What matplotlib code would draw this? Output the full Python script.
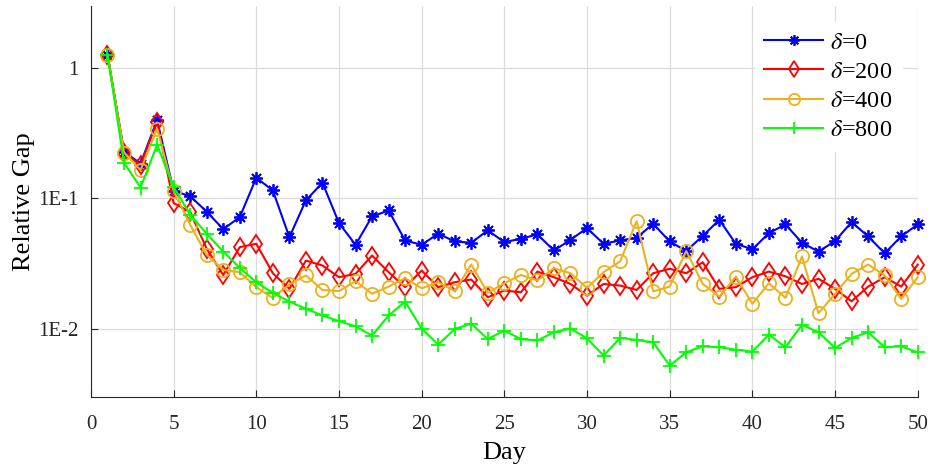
import numpy as np
import matplotlib
matplotlib.use("Agg")
import matplotlib.pyplot as plt

days = np.arange(1, 51)

gap_d0 = [1.27, 0.228, 0.185, 0.40, 0.114, 0.104, 0.079, 0.058, 0.0718, 0.144,
          0.115, 0.0503, 0.0966, 0.132, 0.0646, 0.044, 0.0726, 0.0807, 0.0475, 0.044,
          0.0535, 0.0467, 0.0456, 0.0568, 0.0461, 0.049, 0.0528, 0.0398, 0.048, 0.0591,
          0.0448, 0.0475, 0.0498, 0.0638, 0.0467, 0.0394, 0.0515, 0.0684, 0.0448, 0.0406,
          0.0541, 0.0631, 0.0456, 0.039, 0.047, 0.0658, 0.051, 0.0379, 0.051, 0.0631]
gap_d200 = [1.27, 0.225, 0.18, 0.387, 0.092, 0.0785, 0.041, 0.0258, 0.0422, 0.0448,
            0.0266, 0.0202, 0.0333, 0.0305, 0.0248, 0.0263, 0.0364, 0.0271, 0.0208, 0.0279,
            0.0208, 0.0227, 0.0238, 0.0174, 0.0196, 0.019, 0.0274, 0.0248, 0.022, 0.0179,
            0.022, 0.0214, 0.0198, 0.0266, 0.0288, 0.0266, 0.0323, 0.0202, 0.0208, 0.0248,
            0.0274, 0.0252, 0.022, 0.0241, 0.0202, 0.0162, 0.021, 0.0248, 0.021, 0.031]
gap_d400 = [1.27, 0.225, 0.165, 0.343, 0.114, 0.0627, 0.0368, 0.0282, 0.0271, 0.0208,
            0.0172, 0.0218, 0.0256, 0.0198, 0.0194, 0.0231, 0.0185, 0.021, 0.0244, 0.0204,
            0.0227, 0.0194, 0.031, 0.0188, 0.0223, 0.0258, 0.0234, 0.0291, 0.0266, 0.0205,
            0.0271, 0.0328, 0.0668, 0.0193, 0.021, 0.0394, 0.022, 0.0176, 0.0251, 0.0155,
            0.0223, 0.0172, 0.0358, 0.0131, 0.0185, 0.0263, 0.031, 0.0256, 0.0169, 0.0248]
gap_d800 = [1.27, 0.188, 0.121, 0.258, 0.122, 0.075, 0.0535, 0.039, 0.0292, 0.0227,
            0.0188, 0.0161, 0.0142, 0.0126, 0.0114, 0.0104, 0.00883, 0.0126, 0.0161, 0.0100,
            0.00753, 0.00993, 0.0109, 0.0083, 0.00966, 0.0083, 0.0081, 0.00938, 0.0100, 0.00841,
            0.0062, 0.00847, 0.00817, 0.00785, 0.00519, 0.00657, 0.00731, 0.00718, 0.00689, 0.00665,
            0.0090, 0.00718, 0.0107, 0.00937, 0.0071, 0.00847, 0.00937, 0.00718, 0.00731, 0.00657]

labels = [r"$\delta$=0", r"$\delta$=200", r"$\delta$=400", r"$\delta$=800"]

plt.rcParams["font.family"] = ["Liberation Serif", "DejaVu Serif"]
plt.rcParams["mathtext.fontset"] = "stix"

fig = plt.figure(figsize=(9.3, 4.65), dpi=100)
ax = fig.add_axes([0.0978, 0.147, 0.889, 0.84])

ax.plot(days, gap_d0, color=(0, 0, 1), lw=1.5, marker=(8, 2, 0), ms=9, mew=1.3,
        label=labels[0], clip_on=False)
ax.plot(days, gap_d200, color=(1, 0, 0), lw=1.5, marker="d", ms=9.5, mfc="none", mew=1.3,
        label=labels[1], clip_on=False)
ax.plot(days, gap_d400, color="#EDB120", lw=1.5, marker="o", ms=9.5, mfc="none", mew=1.3,
        label=labels[2], clip_on=False)
ax.plot(days, gap_d800, color=(0, 1, 0), lw=1.5, marker="+", ms=10, mew=1.3,
        label=labels[3], clip_on=False)

ax.set_yscale("log")
ax.set_xlim(0, 50)
ax.set_ylim(0.003, 3)
ax.set_xticks(range(0, 51, 5))
ax.set_yticks([0.01, 0.1, 1])
ax.set_yticklabels(["1E-2", "1E-1", "1"])
ax.yaxis.set_minor_locator(matplotlib.ticker.NullLocator())
ax.tick_params(direction="in", labelsize=15, length=5, colors="#262626")
ax.tick_params(axis="x", pad=13)
ax.tick_params(axis="y", pad=9)
ax.grid(True, color="#dcdcdc", lw=0.9)
ax.set_axisbelow(True)
for s in ["top", "right"]:
    ax.spines[s].set_visible(False)
for s in ["left", "bottom"]:
    ax.spines[s].set_color("#262626")

ax.set_xlabel("Day", fontsize=19, labelpad=6)
ax.set_ylabel("Relative Gap", fontsize=19, labelpad=2)
leg = ax.legend(loc="upper right", fontsize=17.5, frameon=True, edgecolor="white",
                framealpha=1, fancybox=False, handlelength=2.4, borderaxespad=0.65,
                labelspacing=0.3, handletextpad=0.3, markerscale=0.85)

fig.savefig("out.png", dpi=100)
